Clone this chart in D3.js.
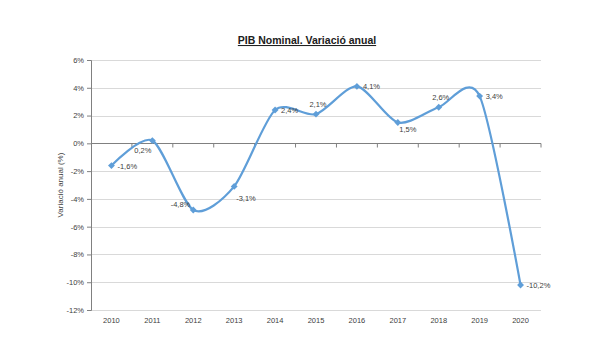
<!DOCTYPE html>
<html><head><meta charset="utf-8">
<script src="https://cdn.jsdelivr.net/npm/d3@7"></script>
<style>body{margin:0;background:#fff}svg{display:block}text{font-family:"Liberation Sans",Arial,sans-serif}</style>
</head><body><svg id="c" width="600" height="360"></svg>
<script>
const years = ["2010","2011","2012","2013","2014","2015","2016","2017","2018","2019","2020"];
const values = [-1.6, 0.2, -4.8, -3.1, 2.4, 2.1, 4.1, 1.5, 2.6, 3.4, -10.2];
const yTicks = [6,4,2,0,-2,-4,-6,-8,-10,-12];
const title = "PIB Nominal. Variació anual";
const yTitle = "Variació anual (%)";

(function() {
const svg = d3.select("#c");
const mL = 91, mR = 541, mT = 60, mB = 310;
const x = d3.scaleBand().domain(years).range([mL, mR]);
const y = d3.scaleLinear().domain([-12, 6]).range([mB, mT]);
const fmt = v => d3.format(".1f")(v).replace(".", ",").replace("−", "-") + "%";
const col = "#5f9ed8";

// gridlines
svg.append("g").selectAll("line").data(yTicks.filter(d => d !== 0))
  .join("line").attr("x1", mL).attr("x2", mR)
  .attr("y1", d => Math.round(y(d)) + 0.5).attr("y2", d => Math.round(y(d)) + 0.5)
  .attr("stroke", "#d9d9d9").attr("stroke-width", 1);

// y axis
const ya = svg.append("g").attr("transform", `translate(${mL},0)`)
  .call(d3.axisLeft(y).tickValues(yTicks).tickSize(4).tickFormat(d => d + "%"));
ya.select(".domain").attr("stroke", "#808080");
ya.selectAll(".tick line").attr("stroke", "#808080");
ya.selectAll("text").attr("font-size", 7.5).attr("fill", "#404040").attr("x", -7);

// zero line category axis with tick marks
const za = svg.append("g").attr("transform", `translate(0,${Math.round(y(0)) + 0.5})`);
za.append("path").attr("d", `M${mL},0H${mR}`).attr("stroke", "#808080");
const bounds = years.map((d, i) => mL + (i + 1) * x.step());
za.selectAll("line.bt").data(bounds).join("line").attr("class", "bt")
  .attr("x1", d => d).attr("x2", d => d).attr("y1", 0).attr("y2", 4).attr("stroke", "#808080");

// bottom category labels
const xa = svg.append("g").attr("transform", `translate(0,${mB})`)
  .call(d3.axisBottom(x).tickSize(0).tickPadding(8));
xa.select(".domain").remove();
xa.selectAll("text").attr("font-size", 7.5).attr("fill", "#404040");

// title
svg.append("text").attr("x", 307).attr("y", 44).attr("text-anchor", "middle")
  .attr("font-size", 10.5).attr("font-weight", "bold").attr("fill", "#202020")
  .attr("text-decoration", "underline").text(title);
svg.append("text").attr("transform", `translate(63,${(mT + mB) / 2}) rotate(-90)`)
  .attr("text-anchor", "middle").attr("font-size", 8).attr("fill", "#404040").text(yTitle);

// line
const pts = years.map((d, i) => [x(d) + x.bandwidth() / 2, y(values[i])]);
svg.append("path").attr("d", d3.line().curve(d3.curveCardinal.tension(0.2))(pts))
  .attr("fill", "none").attr("stroke", col).attr("stroke-width", 2.2);

// markers
svg.append("g").selectAll("path").data(pts).join("path")
  .attr("transform", d => `translate(${d[0]},${d[1]})`)
  .attr("d", d3.symbol(d3.symbolDiamond2, 30)).attr("fill", col);

// labels
const place = ["r","bl","al","br","r","a","r","b","a","r","r"];
svg.append("g").selectAll("text").data(pts).join("text")
  .attr("font-size", 7.5).attr("fill", "#404040")
  .each(function(d, i) {
    const t = d3.select(this), p = place[i];
    let dx = 0, dy = 0, anchor = "start";
    if (p === "r") { dx = 6; dy = 3; }
    else if (p === "bl") { dx = -1; dy = 12; anchor = "end"; }
    else if (p === "al") { dx = -3; dy = -3; anchor = "end"; }
    else if (p === "br") { dx = 2; dy = 15; }
    else if (p === "a") { dx = 2; dy = -7; anchor = "middle"; }
    else if (p === "b") { dx = 10; dy = 9; anchor = "middle"; }
    t.attr("x", d[0] + dx).attr("y", d[1] + dy).attr("text-anchor", anchor).text(fmt(values[i]));
  });
})();
</script></body></html>
